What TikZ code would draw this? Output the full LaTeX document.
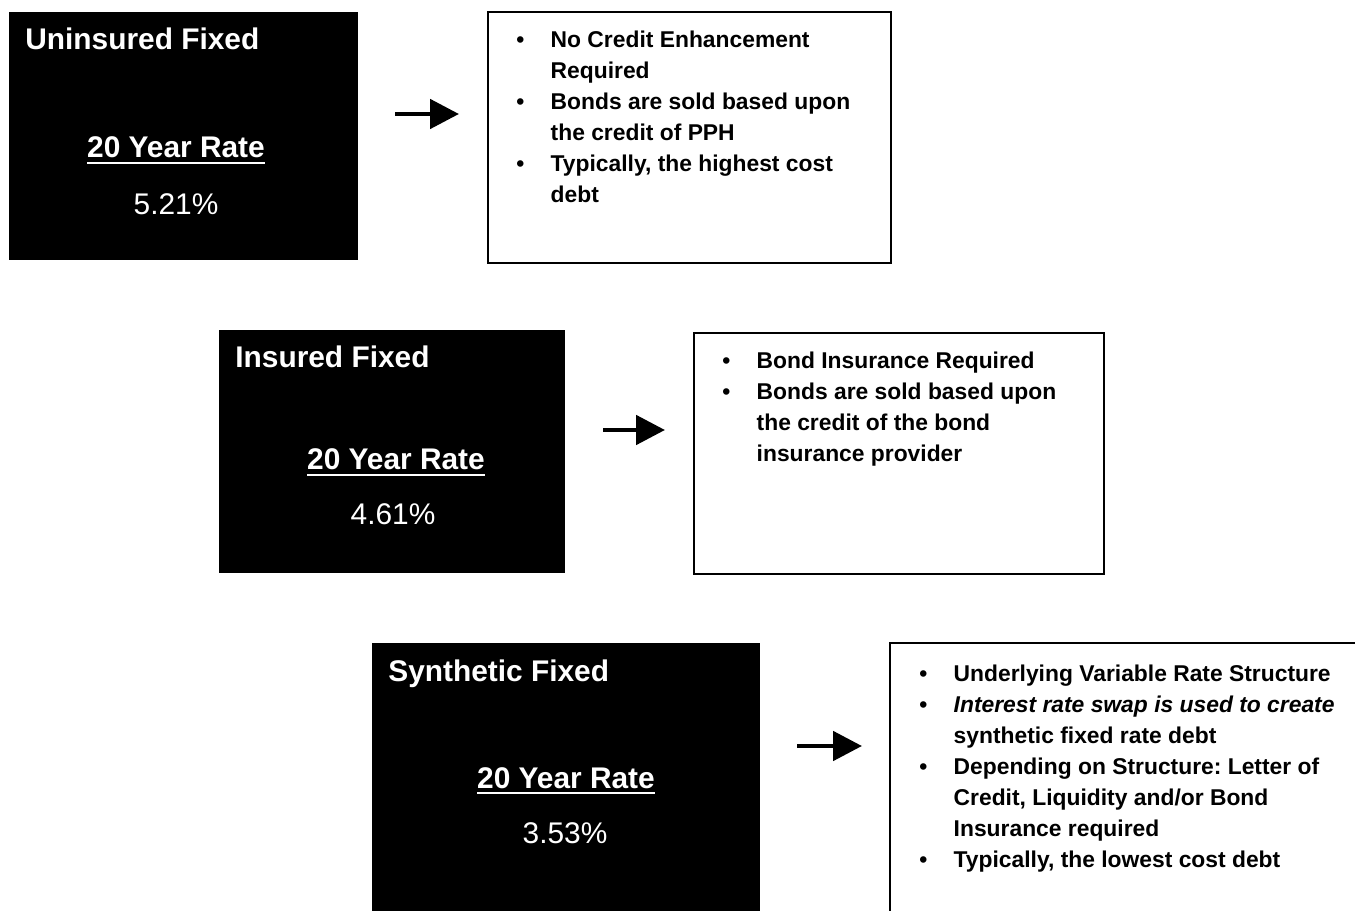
\documentclass[tikz,border=0pt]{standalone}
\usepackage{fontspec}
\setmainfont{Liberation Sans}
\usetikzlibrary{arrows.meta}
\frenchspacing

% white underline under the rate heading
\newcommand{\rateul}[1]{\setbox0\hbox{#1}\rlap{\rule[-3.6pt]{\wd0}{1.1pt}}\box0}

\begin{document}
\begin{tikzpicture}[x=0.02cm, y=-0.02cm, % pixel grid, y pointing down
    blackbox/.style={fill=black, inner sep=0pt},
    notebox/.style={draw=black, line width=0.8pt, fill=white, inner sep=0pt},
    boxtitle/.style={text=white, anchor=base west, inner sep=0pt, font=\fontsize{17}{20}\selectfont\bfseries},
    ratehead/.style={text=white, anchor=base, inner sep=0pt, font=\fontsize{17}{20}\selectfont\bfseries},
    rateval/.style={text=white, anchor=base, inner sep=0pt, font=\fontsize{17}{20}\selectfont},
    notes/.style={anchor=north west, inner sep=0pt, align=left, font=\fontsize{13}{17.7}\selectfont\bfseries},
    pointer/.style={-{Triangle[length=16.4pt, width=16.4pt]}, line width=2.8pt}]

    \clip (0,0) rectangle (1355,911);

    % Uninsured fixed
    \node[blackbox, minimum width=6.98cm, minimum height=4.96cm] (blk1) at (183.5,136) {};
    \node[boxtitle] (title1) at (25,50) {Uninsured Fixed};
    \node[ratehead] (rate1) at (176,158) {\rateul{20 Year Rate}};
    \node[rateval] (val1) at (176,215) {5.21\%};
    \node[notebox, minimum width=8.06cm, minimum height=5.02cm] (note1) at (689.5,137.5) {};
    \node[notes] (list1) at (516,25) {\begin{tabular}{@{}l@{\hspace{15pt}}l@{}}
        \textbullet & No Credit Enhancement\\
        & Required\\
        \textbullet & Bonds are sold based upon\\
        & the credit of PPH\\
        \textbullet & Typically, the highest cost\\
        & debt
      \end{tabular}};
    \coordinate (a1) at (395,114);
    \coordinate (b1) at (459,114);
    \draw[pointer] (a1) -- (b1);

    % Insured fixed
    \node[blackbox, minimum width=6.92cm, minimum height=4.86cm] (blk2) at (392,451.5) {};
    \node[boxtitle] (title2) at (235,368) {Insured Fixed};
    \node[ratehead] (rate2) at (396,470) {\rateul{20 Year Rate}};
    \node[rateval] (val2) at (393,525) {4.61\%};
    \node[notebox, minimum width=8.2cm, minimum height=4.82cm] (note2) at (899,453.5) {};
    \node[notes] (list2) at (722,346) {\begin{tabular}{@{}l@{\hspace{15pt}}l@{}}
        \textbullet & Bond Insurance Required\\
        \textbullet & Bonds are sold based upon\\
        & the credit of the bond\\
        & insurance provider
      \end{tabular}};
    \coordinate (a2) at (603,430);
    \coordinate (b2) at (665,430);
    \draw[pointer] (a2) -- (b2);

    % Synthetic fixed
    \node[blackbox, minimum width=7.76cm, minimum height=5.64cm] (blk3) at (566,784) {};
    \node[boxtitle] (title3) at (388,681) {Synthetic Fixed};
    \node[ratehead] (rate3) at (566,788) {\rateul{20 Year Rate}};
    \node[rateval] (val3) at (565,843) {3.53\%};
    \node[notebox, minimum width=9.8cm, minimum height=5.64cm] (note3) at (1135,784) {};
    \node[notes] (list3) at (919,659) {\begin{tabular}{@{}l@{\hspace{15pt}}l@{}}
        \textbullet & Underlying Variable Rate Structure\\
        \textbullet & \textit{Interest rate swap is used to create}\\
        & synthetic fixed rate debt\\
        \textbullet & Depending on Structure: Letter of\\
        & Credit, Liquidity and/or Bond\\
        & Insurance required\\
        \textbullet & Typically, the lowest cost debt
      \end{tabular}};
    \coordinate (a3) at (797,746);
    \coordinate (b3) at (862,746);
    \draw[pointer] (a3) -- (b3);
\end{tikzpicture}
\end{document}
